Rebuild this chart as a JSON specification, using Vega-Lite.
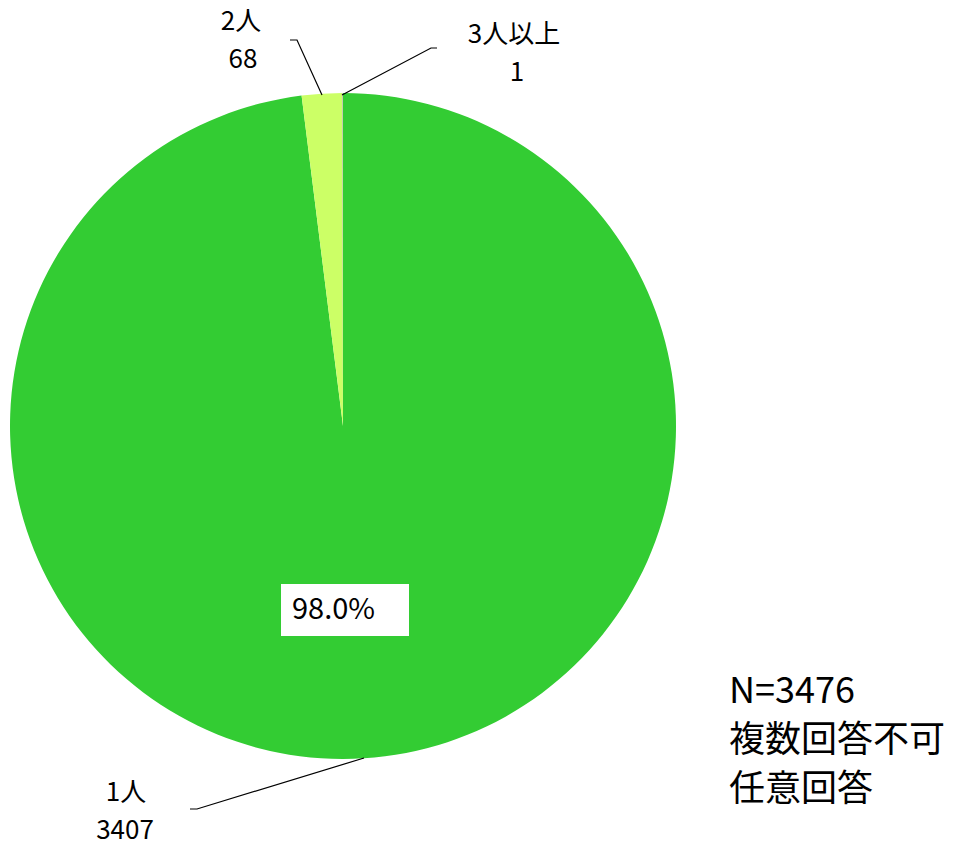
{
  "$schema": "https://vega.github.io/schema/vega-lite/v6.json",
  "width": 960,
  "height": 845,
  "autosize": {"type": "none"},
  "padding": 0,
  "background": "white",
  "config": {"view": {"stroke": null}, "font": "Noto Sans CJK JP"},
  "datasets": {
    "slices": [
      {"category": "1人", "count": 3407, "order": 1},
      {"category": "2人", "count": 68, "order": 2},
      {"category": "3人以上", "count": 1, "order": 3}
    ],
    "leaders": [
      {"line": "2人", "seq": 1, "px": 322, "py": 95},
      {"line": "2人", "seq": 2, "px": 297, "py": 40},
      {"line": "2人", "seq": 3, "px": 290, "py": 40},
      {"line": "3人以上", "seq": 1, "px": 342, "py": 95},
      {"line": "3人以上", "seq": 2, "px": 431, "py": 48},
      {"line": "3人以上", "seq": 3, "px": 437, "py": 48},
      {"line": "1人", "seq": 1, "px": 364, "py": 758},
      {"line": "1人", "seq": 2, "px": 197, "py": 809},
      {"line": "1人", "seq": 3, "px": 190, "py": 809}
    ],
    "labels": [
      {"label": "2人", "px": 241, "py": 22},
      {"label": "68", "px": 243, "py": 60},
      {"label": "3人以上", "px": 514, "py": 35},
      {"label": "1", "px": 517, "py": 73},
      {"label": "1人", "px": 126, "py": 793},
      {"label": "3407", "px": 125, "py": 831}
    ],
    "pct": [
      {"label": "98.0%", "x1": 281, "x2": 409, "y1": 584, "y2": 636, "px": 292, "py": 610}
    ],
    "note": [
      {"label": "N=3476", "px": 729, "py": 692},
      {"label": "複数回答不可", "px": 729, "py": 741},
      {"label": "任意回答", "px": 729, "py": 790}
    ]
  },
  "layer": [
    {
      "data": {"name": "slices"},
      "mark": {"type": "arc", "outerRadius": 333},
      "encoding": {
        "theta": {"field": "count", "type": "quantitative", "stack": true},
        "order": {"field": "order", "type": "quantitative"},
        "color": {
          "field": "category",
          "type": "nominal",
          "scale": {"domain": ["1人", "2人", "3人以上"], "range": ["#33CC33", "#CCFF66", "#A6A6A6"]},
          "legend": null
        },
        "x": {"datum": 343, "type": "quantitative", "scale": {"domain": [0, 960], "nice": false, "zero": false}, "axis": null},
        "y": {"datum": 426, "type": "quantitative", "scale": {"domain": [0, 845], "nice": false, "zero": false, "reverse": true}, "axis": null}
      }
    },
    {
      "data": {"name": "leaders"},
      "mark": {"type": "line", "color": "black", "strokeWidth": 1.2},
      "encoding": {
        "x": {"field": "px", "type": "quantitative"},
        "y": {"field": "py", "type": "quantitative"},
        "detail": {"field": "line"},
        "order": {"field": "seq", "type": "quantitative"}
      }
    },
    {
      "data": {"name": "labels"},
      "mark": {"type": "text", "fontSize": 26, "color": "black", "align": "center", "baseline": "middle"},
      "encoding": {
        "x": {"field": "px", "type": "quantitative"},
        "y": {"field": "py", "type": "quantitative"},
        "text": {"field": "label"}
      }
    },
    {
      "data": {"name": "pct"},
      "mark": {"type": "rect", "color": "white"},
      "encoding": {
        "x": {"field": "x1", "type": "quantitative"},
        "x2": {"field": "x2"},
        "y": {"field": "y1", "type": "quantitative"},
        "y2": {"field": "y2"}
      }
    },
    {
      "data": {"name": "pct"},
      "mark": {"type": "text", "fontSize": 29, "color": "black", "align": "left", "baseline": "middle"},
      "encoding": {
        "x": {"field": "px", "type": "quantitative"},
        "y": {"field": "py", "type": "quantitative"},
        "text": {"field": "label"}
      }
    },
    {
      "data": {"name": "note"},
      "mark": {"type": "text", "fontSize": 36, "color": "black", "align": "left", "baseline": "middle"},
      "encoding": {
        "x": {"field": "px", "type": "quantitative"},
        "y": {"field": "py", "type": "quantitative"},
        "text": {"field": "label"}
      }
    }
  ]
}
